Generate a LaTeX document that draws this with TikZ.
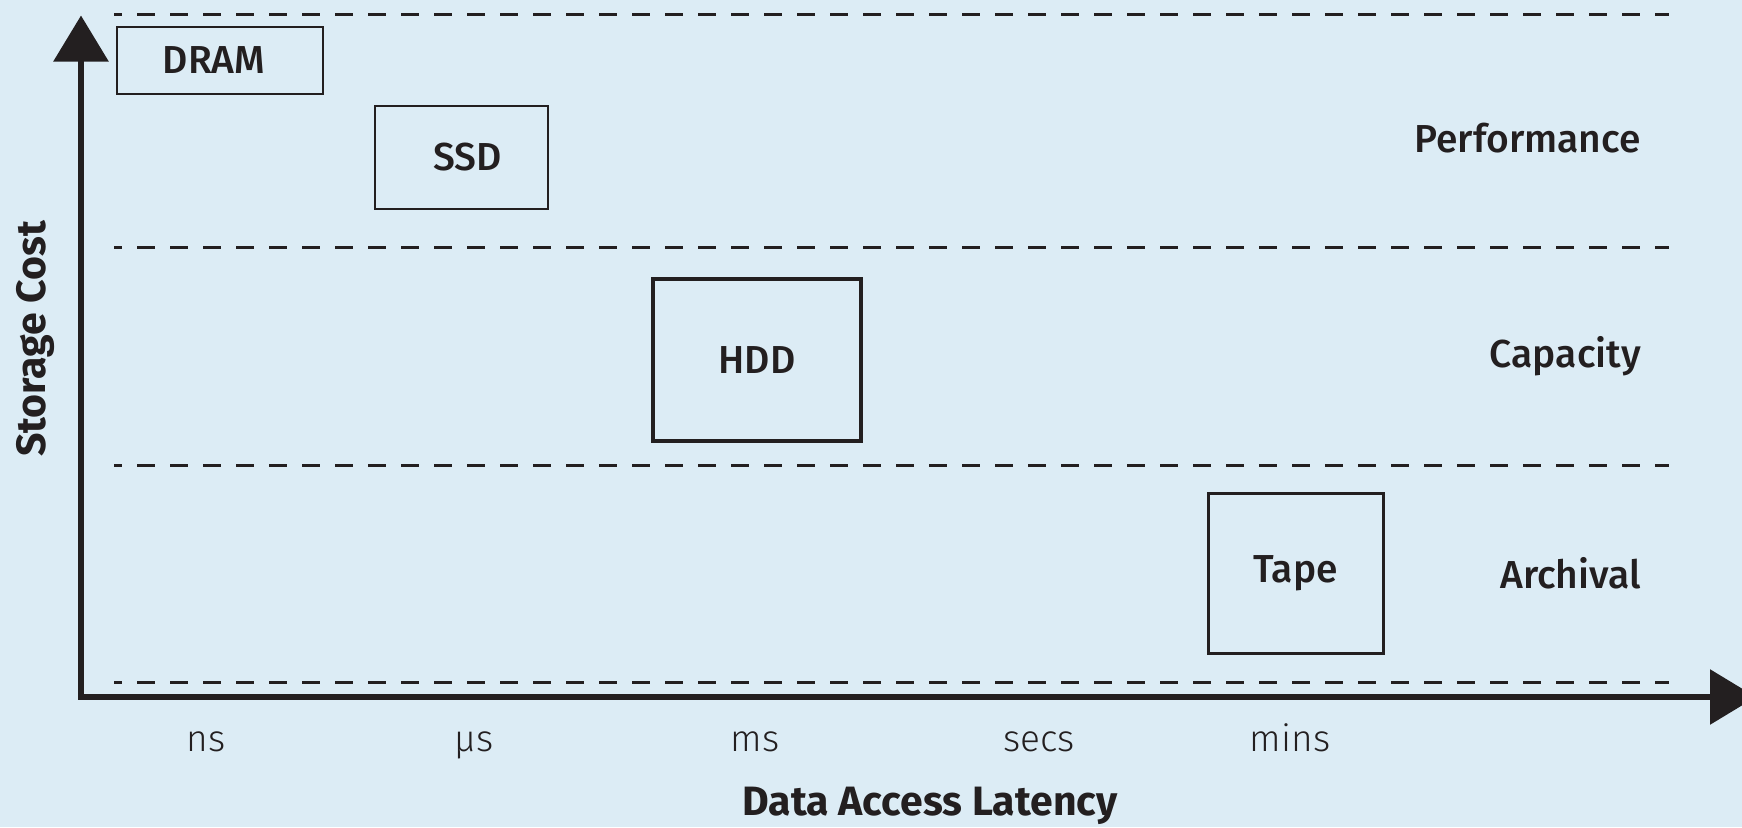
\documentclass[tikz,border=0pt]{standalone}
\usepackage{fontspec}
\setmainfont{Fira Sans}
\newfontfamily\medfont{Fira Sans Medium}
\newfontfamily\lightfont{Fira Sans Light}
\usetikzlibrary{arrows.meta}
\definecolor{bg}{RGB}{220,236,245}
\definecolor{ink}{RGB}{35,31,32}
\begin{document}
\begin{tikzpicture}[x=1pt,y=-1pt,
  tierline/.style={ink, line width=3pt, dash pattern=on 18pt off 15pt, dash phase=10pt},
  axisline/.style={ink, line width=6pt, line join=miter,
    {Triangle[length=46pt,width=54pt]}-{Triangle[length=46pt,width=54pt]}},
  device/.style={draw=ink, inner sep=0pt, text=ink, font=\medfont\fontsize{39}{39}\selectfont},
  tierlabel/.style={anchor=base east, inner sep=0pt, text=ink, font=\medfont\fontsize{39}{39}\selectfont},
  ticklabel/.style={anchor=base, inner sep=0pt, text=ink, font=\lightfont\fontsize{37}{37}\selectfont},
  axistitle/.style={anchor=base, inner sep=0pt, text=ink, font=\bfseries\fontsize{41}{41}\selectfont}]
\fill[bg] (0,0) rectangle (1742,827);
\useasboundingbox (0,0) rectangle (1742,827);
\clip (0,0) rectangle (1742,827);
% tier separators
\coordinate (l1) at (114,14.5);  \coordinate (r1) at (1669,14.5);
\coordinate (l2) at (114,247);   \coordinate (r2) at (1669,247);
\coordinate (l3) at (114,465.5); \coordinate (r3) at (1669,465.5);
\coordinate (l4) at (114,682);   \coordinate (r4) at (1669,682);
\draw[tierline] (l1) -- (r1);
\draw[tierline] (l2) -- (r2);
\draw[tierline] (l3) -- (r3);
\draw[tierline] (l4) -- (r4);
% axes
\coordinate (ytip) at (81,15.5);
\coordinate (origin) at (81,697);
\coordinate (xtip) at (1756,697);
\draw[axisline] (ytip) -- (origin) -- (xtip);
% devices
\node[device, line width=1.5pt, minimum width=206pt, minimum height=67pt] (dram) at (220,60.5) {\hspace*{-12pt}DRAM};
\node[device, line width=2.5pt, minimum width=173pt, minimum height=103pt] (ssd) at (461.5,157.5) {\hspace*{12pt}SSD};
\node[device, line width=4pt, minimum width=208pt, minimum height=162pt] (hdd) at (757,360) {HDD};
\node[device, line width=3pt, minimum width=175pt, minimum height=160pt] (tape) at (1295.5,573) {Tape};
% tier labels
\node[tierlabel] (perf) at (1641,152) {Performance};
\node[tierlabel] (cap) at (1641,367) {Capacity};
\node[tierlabel] (arch) at (1641,588) {Archival};
% ticks
\node[ticklabel] (ns) at (206,751) {ns};
\node[ticklabel] (us) at (474,751) {µs};
\node[ticklabel] (ms) at (755,751) {ms};
\node[ticklabel] (secs) at (1039,751) {secs};
\node[ticklabel] (mins) at (1290,751) {mins};
% axis titles
\node[axistitle] (xtitle) at (930,815) {Data Access Latency};
\node[axistitle, rotate=90] (ytitle) at (45,339) {Storage Cost};
\end{tikzpicture}
\end{document}
